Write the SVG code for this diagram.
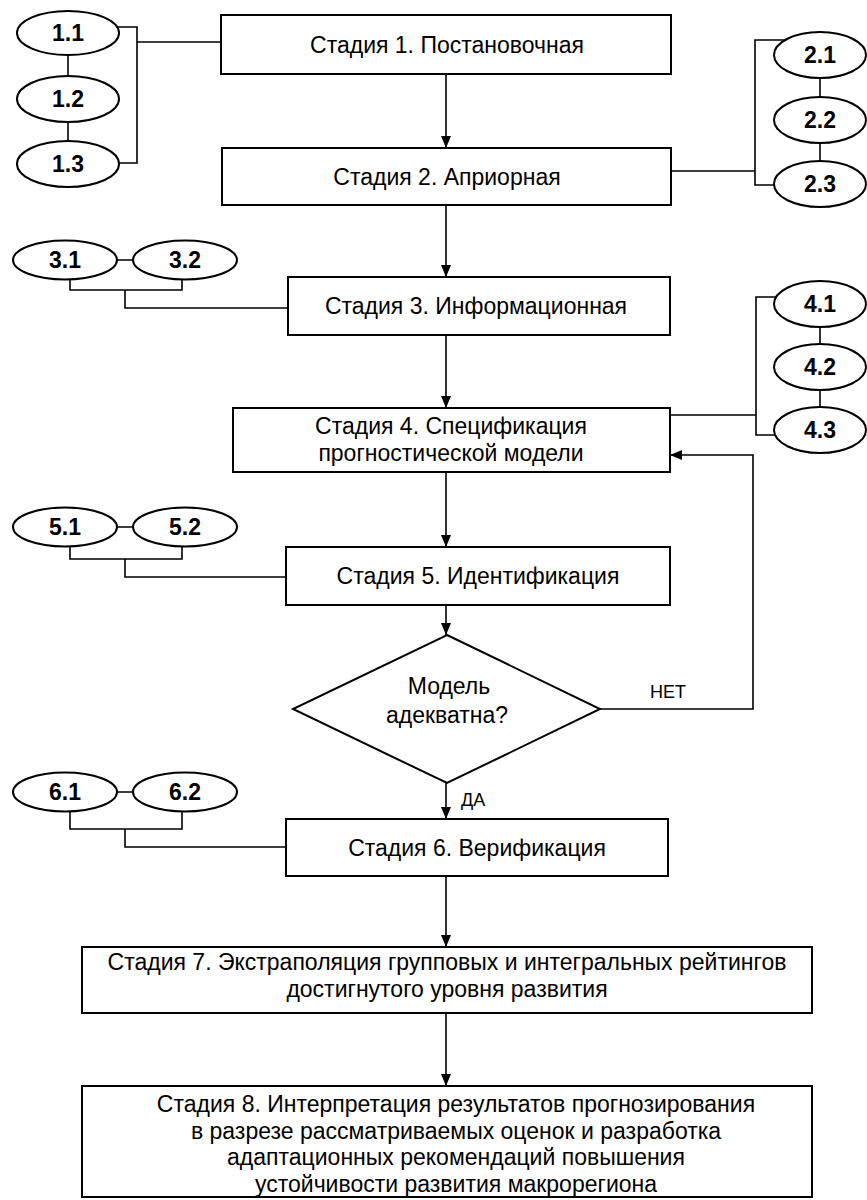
<svg xmlns="http://www.w3.org/2000/svg" width="867" height="1200" viewBox="0 0 867 1200">
<style>
.box{fill:#fff;stroke:#000;stroke-width:2}
.el{fill:#fff;stroke:#000;stroke-width:2}
.ln{fill:none;stroke:#000;stroke-width:1.6}
.t{font-family:"Liberation Sans",Arial,sans-serif;font-size:23px;fill:#000;text-anchor:middle}
.n{font-family:"Liberation Sans",Arial,sans-serif;font-size:23px;font-weight:bold;fill:#000;text-anchor:middle}
.s{font-family:"Liberation Sans",Arial,sans-serif;font-size:18px;fill:#000}
</style>
<defs>
<marker id="ah" markerWidth="12" markerHeight="10" refX="12" refY="5" orient="auto" markerUnits="userSpaceOnUse"><path d="M0,0 L12,5 L0,10 z" fill="#000"/></marker>
</defs>
<rect width="867" height="1200" fill="#fff"/>
<g id="connectors">
<line class="ln" x1="446" y1="74" x2="446" y2="148" marker-end="url(#ah)"/>
<line class="ln" x1="446" y1="205" x2="446" y2="277" marker-end="url(#ah)"/>
<line class="ln" x1="446" y1="335" x2="446" y2="408" marker-end="url(#ah)"/>
<line class="ln" x1="446" y1="472" x2="446" y2="547" marker-end="url(#ah)"/>
<line class="ln" x1="446" y1="605" x2="446" y2="635" marker-end="url(#ah)"/>
<line class="ln" x1="446" y1="783" x2="446" y2="819" marker-end="url(#ah)"/>
<line class="ln" x1="446" y1="876" x2="446" y2="947" marker-end="url(#ah)"/>
<line class="ln" x1="446" y1="1013" x2="446" y2="1086" marker-end="url(#ah)"/>
<polyline class="ln" points="600,709 753,709 753,455 670,455" marker-end="url(#ah)"/>
<path class="ln" d="M68,56 V76 M68,122 V141 M116,27 H137 V163 H119 M137,42 H220"/>
<path class="ln" d="M820,78 V97 M820,143 V161 M785,40 H755 V185 H774 M671,171 H755"/>
<path class="ln" d="M117,260 H133 M70,279 V290 H182 V279 M125,290 V308 H288"/>
<path class="ln" d="M820,327 V344 M820,390 V407 M776,297 H756 V435 H776 M670,415 H756"/>
<path class="ln" d="M117,527 H133 M70,546 V559 H182 V546 M125,559 V577 H286"/>
<path class="ln" d="M117,792 H133 M70,811 V829 H182 V811 M125,829 V847 H286"/>
</g>
<g id="e11"><ellipse class="el" cx="68" cy="33" rx="51" ry="22"/><text class="n" x="68" y="41">1.1</text></g>
<g id="e12"><ellipse class="el" cx="68" cy="99" rx="51" ry="23"/><text class="n" x="68" y="107">1.2</text></g>
<g id="e13"><ellipse class="el" cx="68" cy="164" rx="51" ry="23"/><text class="n" x="68" y="172">1.3</text></g>
<g id="e21"><ellipse class="el" cx="820" cy="55" rx="46" ry="23"/><text class="n" x="820" y="63">2.1</text></g>
<g id="e22"><ellipse class="el" cx="820" cy="120" rx="46" ry="23"/><text class="n" x="820" y="128">2.2</text></g>
<g id="e23"><ellipse class="el" cx="820" cy="184" rx="46" ry="23"/><text class="n" x="820" y="192">2.3</text></g>
<g id="e31"><ellipse class="el" cx="65" cy="260" rx="52" ry="19.5"/><text class="n" x="65" y="268">3.1</text></g>
<g id="e32"><ellipse class="el" cx="185" cy="260" rx="52" ry="19.5"/><text class="n" x="185" y="268">3.2</text></g>
<g id="e41"><ellipse class="el" cx="820" cy="304" rx="46" ry="23"/><text class="n" x="820" y="312">4.1</text></g>
<g id="e42"><ellipse class="el" cx="820" cy="367" rx="46" ry="23"/><text class="n" x="820" y="375">4.2</text></g>
<g id="e43"><ellipse class="el" cx="820" cy="430" rx="46" ry="23"/><text class="n" x="820" y="438">4.3</text></g>
<g id="e51"><ellipse class="el" cx="65" cy="527" rx="52" ry="19.5"/><text class="n" x="65" y="535">5.1</text></g>
<g id="e52"><ellipse class="el" cx="185" cy="527" rx="52" ry="19.5"/><text class="n" x="185" y="535">5.2</text></g>
<g id="e61"><ellipse class="el" cx="65" cy="792" rx="52" ry="19.5"/><text class="n" x="65" y="800">6.1</text></g>
<g id="e62"><ellipse class="el" cx="185" cy="792" rx="52" ry="19.5"/><text class="n" x="185" y="800">6.2</text></g>
<g id="s1"><rect class="box" x="221" y="15" width="450" height="59"/><text class="t" x="447" y="53">Стадия 1. Постановочная</text></g>
<g id="s2"><rect class="box" x="222" y="148" width="449" height="57"/><text class="t" x="447" y="185">Стадия 2. Априорная</text></g>
<g id="s3"><rect class="box" x="288" y="277" width="382" height="58"/><text class="t" x="476" y="314">Стадия 3. Информационная</text></g>
<g id="s4"><rect class="box" x="233" y="408" width="437" height="64"/><text class="t" x="451" y="434">Стадия 4. Спецификация</text><text class="t" x="451" y="461">прогностической модели</text></g>
<g id="s5"><rect class="box" x="286" y="547" width="384" height="58"/><text class="t" x="478" y="584">Стадия 5. Идентификация</text></g>
<g id="d1"><polygon class="box" points="447,635 600,709 447,783 293,709"/><text class="t" x="449" y="694">Модель</text><text class="t" x="447" y="723">адекватна?</text></g>
<text class="s" x="650" y="698">НЕТ</text>
<text class="s" x="461" y="806">ДА</text>
<g id="s6"><rect class="box" x="286" y="819" width="382" height="57"/><text class="t" x="477" y="856">Стадия 6. Верификация</text></g>
<g id="s7"><rect class="box" x="82" y="947" width="730" height="66"/><text class="t" x="447" y="970">Стадия 7. Экстраполяция групповых и интегральных рейтингов</text><text class="t" x="447" y="997">достигнутого уровня развития</text></g>
<g id="s8"><rect class="box" x="82" y="1086" width="730" height="111"/><text class="t" x="456" y="1112">Стадия 8. Интерпретация результатов прогнозирования</text><text class="t" x="456" y="1139">в разрезе рассматриваемых оценок и разработка</text><text class="t" x="456" y="1165">адаптационных рекомендаций повышения</text><text class="t" x="456" y="1192">устойчивости развития макрорегиона</text></g>
</svg>
